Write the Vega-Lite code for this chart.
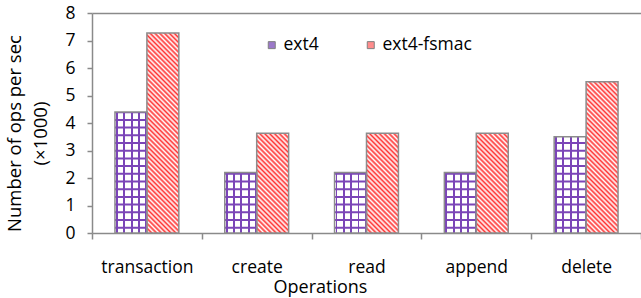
{
  "$schema": "https://vega.github.io/schema/vega-lite/v6.json",
  "width": 549,
  "height": 220,
  "autosize": "none",
  "padding": {"left": 92, "top": 13, "right": 0, "bottom": 65},
  "background": "white",
  "config": {
    "font": "Open Sans",
    "view": {"stroke": null},
    "axis": {"titleFontWeight": "normal", "labelColor": "#000", "titleColor": "#000", "domainColor": "#8a8a8a", "tickColor": "#8a8a8a", "domainWidth": 1.5, "tickWidth": 1.5},
    "legend": {"orient": "none", "direction": "horizontal", "legendX": 171, "legendY": 23, "padding": 0, "symbolType": "square", "symbolSize": 49, "symbolStrokeColor": "#808080", "symbolStrokeWidth": 1, "symbolOpacity": 1, "labelFont": "Open Sans", "labelFontSize": 17.5, "labelColor": "#000", "labelOffset": 3, "columnPadding": 43}
  },
  "data": {"values": [
    {"op": "transaction", "series": "ext4", "value": 4.4},
    {"op": "transaction", "series": "ext4-fsmac", "value": 7.27},
    {"op": "create", "series": "ext4", "value": 2.2},
    {"op": "create", "series": "ext4-fsmac", "value": 3.63},
    {"op": "read", "series": "ext4", "value": 2.2},
    {"op": "read", "series": "ext4-fsmac", "value": 3.63},
    {"op": "append", "series": "ext4", "value": 2.2},
    {"op": "append", "series": "ext4-fsmac", "value": 3.63},
    {"op": "delete", "series": "ext4", "value": 3.5},
    {"op": "delete", "series": "ext4-fsmac", "value": 5.5}
  ]},
  "encoding": {
    "x": {"field": "op", "type": "nominal", "sort": null,
      "scale": {"paddingInner": 0, "paddingOuter": 0},
      "axis": {"title": "Operations", "labelAngle": 0, "labelFontSize": 17.5, "tickBand": "extent", "tickSize": 6, "labelPadding": 19, "titleFontSize": 18, "titleX": 228, "titleY": 54, "titleAlign": "center", "titleBaseline": "middle", "titleAnchor": null}},
    "xOffset": {"field": "series", "type": "nominal", "sort": ["ext4", "ext4-fsmac"], "scale": {"paddingInner": 0, "paddingOuter": 0.71875}},
    "y": {"field": "value", "type": "quantitative",
      "scale": {"domain": [0, 8], "nice": false},
      "axis": {"title": ["Number of ops per sec", "(×1000)"], "values": [0,1,2,3,4,5,6,7,8], "labelFontSize": 17.5, "tickSize": 5, "labelPadding": 12, "titleFontSize": 18.5, "titleLineHeight": 26, "titleAngle": -90, "titleX": -78, "titleY": 120, "titleAlign": "center", "titleBaseline": "middle", "grid": true, "gridWidth": 1.5, "gridColor": {"condition": {"test": "datum.value === 8", "value": "#8a8a8a"}, "value": "transparent"}}}
  },
  "layer": [
    {
      "mark": {"type": "bar"},
      "encoding": {
        "color": {"field": "series", "type": "nominal", "title": null,
          "scale": {"domain": ["ext4", "ext4-fsmac"], "range": ["#9b78c9", "#ff8c8c"]}}
      }
    },
    {
      "transform": [{"filter": "datum.series === 'ext4'"}],
      "mark": {"type": "bar", "fill": {"gradient": "linear", "x1": 0, "y1": 0, "x2": 1, "y2": 0, "stops": [
        {"offset": 0, "color": "#ffffff"}, {"offset": 0.03, "color": "#ffffff"}, {"offset": 0.03, "color": "#7b45b8"}, {"offset": 0.09, "color": "#7b45b8"}, {"offset": 0.09, "color": "#ffffff"},
        {"offset": 0.26, "color": "#ffffff"}, {"offset": 0.26, "color": "#7b45b8"}, {"offset": 0.32, "color": "#7b45b8"}, {"offset": 0.32, "color": "#ffffff"},
        {"offset": 0.49, "color": "#ffffff"}, {"offset": 0.49, "color": "#7b45b8"}, {"offset": 0.55, "color": "#7b45b8"}, {"offset": 0.55, "color": "#ffffff"},
        {"offset": 0.72, "color": "#ffffff"}, {"offset": 0.72, "color": "#7b45b8"}, {"offset": 0.78, "color": "#7b45b8"}, {"offset": 0.78, "color": "#ffffff"},
        {"offset": 0.95, "color": "#ffffff"}, {"offset": 0.95, "color": "#7b45b8"}, {"offset": 1, "color": "#7b45b8"}]}}
    },
    {
      "transform": [{"filter": "datum.series === 'ext4'"}],
      "mark": {"type": "rule", "color": "#7b45b8", "strokeWidth": 32, "strokeCap": "butt", "strokeDash": [2, 5.7], "strokeDashOffset": 3.4},
      "encoding": {
        "y": {"datum": 0, "type": "quantitative"},
        "y2": {"field": "value"}
      }
    },
    {
      "transform": [{"filter": "datum.series === 'ext4-fsmac' && datum.op === 'transaction'"}],
      "mark": {"type": "bar", "fill": {"gradient": "linear", "x1": 0, "y1": 1, "x2": 0.181, "y2": -0.131, "stops": [
        {"offset":0,"color":"#ff3333"},{"offset":0.0104,"color":"#fff"},{"offset":0.0208,"color":"#ff3333"},{"offset":0.0313,"color":"#fff"},{"offset":0.0417,"color":"#ff3333"},{"offset":0.0521,"color":"#fff"},{"offset":0.0625,"color":"#ff3333"},{"offset":0.0729,"color":"#fff"},{"offset":0.0833,"color":"#ff3333"},{"offset":0.0938,"color":"#fff"},
        {"offset":0.1042,"color":"#ff3333"},{"offset":0.1146,"color":"#fff"},{"offset":0.125,"color":"#ff3333"},{"offset":0.1354,"color":"#fff"},{"offset":0.1458,"color":"#ff3333"},{"offset":0.1563,"color":"#fff"},{"offset":0.1667,"color":"#ff3333"},{"offset":0.1771,"color":"#fff"},{"offset":0.1875,"color":"#ff3333"},{"offset":0.1979,"color":"#fff"},
        {"offset":0.2083,"color":"#ff3333"},{"offset":0.2188,"color":"#fff"},{"offset":0.2292,"color":"#ff3333"},{"offset":0.2396,"color":"#fff"},{"offset":0.25,"color":"#ff3333"},{"offset":0.2604,"color":"#fff"},{"offset":0.2708,"color":"#ff3333"},{"offset":0.2813,"color":"#fff"},{"offset":0.2917,"color":"#ff3333"},{"offset":0.3021,"color":"#fff"},
        {"offset":0.3125,"color":"#ff3333"},{"offset":0.3229,"color":"#fff"},{"offset":0.3333,"color":"#ff3333"},{"offset":0.3438,"color":"#fff"},{"offset":0.3542,"color":"#ff3333"},{"offset":0.3646,"color":"#fff"},{"offset":0.375,"color":"#ff3333"},{"offset":0.3854,"color":"#fff"},{"offset":0.3958,"color":"#ff3333"},{"offset":0.4063,"color":"#fff"},
        {"offset":0.4167,"color":"#ff3333"},{"offset":0.4271,"color":"#fff"},{"offset":0.4375,"color":"#ff3333"},{"offset":0.4479,"color":"#fff"},{"offset":0.4583,"color":"#ff3333"},{"offset":0.4688,"color":"#fff"},{"offset":0.4792,"color":"#ff3333"},{"offset":0.4896,"color":"#fff"},{"offset":0.5,"color":"#ff3333"},{"offset":0.5104,"color":"#fff"},
        {"offset":0.5208,"color":"#ff3333"},{"offset":0.5313,"color":"#fff"},{"offset":0.5417,"color":"#ff3333"},{"offset":0.5521,"color":"#fff"},{"offset":0.5625,"color":"#ff3333"},{"offset":0.5729,"color":"#fff"},{"offset":0.5833,"color":"#ff3333"},{"offset":0.5938,"color":"#fff"},{"offset":0.6042,"color":"#ff3333"},{"offset":0.6146,"color":"#fff"},
        {"offset":0.625,"color":"#ff3333"},{"offset":0.6354,"color":"#fff"},{"offset":0.6458,"color":"#ff3333"},{"offset":0.6563,"color":"#fff"},{"offset":0.6667,"color":"#ff3333"},{"offset":0.6771,"color":"#fff"},{"offset":0.6875,"color":"#ff3333"},{"offset":0.6979,"color":"#fff"},{"offset":0.7083,"color":"#ff3333"},{"offset":0.7188,"color":"#fff"},
        {"offset":0.7292,"color":"#ff3333"},{"offset":0.7396,"color":"#fff"},{"offset":0.75,"color":"#ff3333"},{"offset":0.7604,"color":"#fff"},{"offset":0.7708,"color":"#ff3333"},{"offset":0.7813,"color":"#fff"},{"offset":0.7917,"color":"#ff3333"},{"offset":0.8021,"color":"#fff"},{"offset":0.8125,"color":"#ff3333"},{"offset":0.8229,"color":"#fff"},
        {"offset":0.8333,"color":"#ff3333"},{"offset":0.8438,"color":"#fff"},{"offset":0.8542,"color":"#ff3333"},{"offset":0.8646,"color":"#fff"},{"offset":0.875,"color":"#ff3333"},{"offset":0.8854,"color":"#fff"},{"offset":0.8958,"color":"#ff3333"},{"offset":0.9063,"color":"#fff"},{"offset":0.9167,"color":"#ff3333"},{"offset":0.9271,"color":"#fff"},
        {"offset":0.9375,"color":"#ff3333"},{"offset":0.9479,"color":"#fff"},{"offset":0.9583,"color":"#ff3333"},{"offset":0.9688,"color":"#fff"},{"offset":0.9792,"color":"#ff3333"},{"offset":0.9896,"color":"#fff"},{"offset":1,"color":"#ff3333"}]}}
    },
    {
      "transform": [{"filter": "datum.series === 'ext4-fsmac' && (datum.op === 'create' || datum.op === 'read' || datum.op === 'append')"}],
      "mark": {"type": "bar", "fill": {"gradient": "linear", "x1": 0, "y1": 1, "x2": 0.3832, "y2": -0.1974, "stops": [
        {"offset":0,"color":"#ff3333"},{"offset":0.0185,"color":"#fff"},{"offset":0.037,"color":"#ff3333"},{"offset":0.0556,"color":"#fff"},{"offset":0.0741,"color":"#ff3333"},{"offset":0.0926,"color":"#fff"},{"offset":0.1111,"color":"#ff3333"},{"offset":0.1296,"color":"#fff"},{"offset":0.1481,"color":"#ff3333"},{"offset":0.1667,"color":"#fff"},
        {"offset":0.1852,"color":"#ff3333"},{"offset":0.2037,"color":"#fff"},{"offset":0.2222,"color":"#ff3333"},{"offset":0.2407,"color":"#fff"},{"offset":0.2593,"color":"#ff3333"},{"offset":0.2778,"color":"#fff"},{"offset":0.2963,"color":"#ff3333"},{"offset":0.3148,"color":"#fff"},{"offset":0.3333,"color":"#ff3333"},{"offset":0.3519,"color":"#fff"},
        {"offset":0.3704,"color":"#ff3333"},{"offset":0.3889,"color":"#fff"},{"offset":0.4074,"color":"#ff3333"},{"offset":0.4259,"color":"#fff"},{"offset":0.4444,"color":"#ff3333"},{"offset":0.463,"color":"#fff"},{"offset":0.4815,"color":"#ff3333"},{"offset":0.5,"color":"#fff"},{"offset":0.5185,"color":"#ff3333"},{"offset":0.537,"color":"#fff"},
        {"offset":0.5556,"color":"#ff3333"},{"offset":0.5741,"color":"#fff"},{"offset":0.5926,"color":"#ff3333"},{"offset":0.6111,"color":"#fff"},{"offset":0.6296,"color":"#ff3333"},{"offset":0.6481,"color":"#fff"},{"offset":0.6667,"color":"#ff3333"},{"offset":0.6852,"color":"#fff"},{"offset":0.7037,"color":"#ff3333"},{"offset":0.7222,"color":"#fff"},
        {"offset":0.7407,"color":"#ff3333"},{"offset":0.7593,"color":"#fff"},{"offset":0.7778,"color":"#ff3333"},{"offset":0.7963,"color":"#fff"},{"offset":0.8148,"color":"#ff3333"},{"offset":0.8333,"color":"#fff"},{"offset":0.8519,"color":"#ff3333"},{"offset":0.8704,"color":"#fff"},{"offset":0.8889,"color":"#ff3333"},{"offset":0.9074,"color":"#fff"},
        {"offset":0.9259,"color":"#ff3333"},{"offset":0.9444,"color":"#fff"},{"offset":0.963,"color":"#ff3333"},{"offset":0.9815,"color":"#fff"},{"offset":1,"color":"#ff3333"}]}}
    },
    {
      "transform": [{"filter": "datum.series === 'ext4-fsmac' && datum.op === 'delete'"}],
      "mark": {"type": "bar", "fill": {"gradient": "linear", "x1": 0, "y1": 1, "x2": 0.2454, "y2": -0.1597, "stops": [
        {"offset":0,"color":"#ff3333"},{"offset":0.0132,"color":"#fff"},{"offset":0.0263,"color":"#ff3333"},{"offset":0.0395,"color":"#fff"},{"offset":0.0526,"color":"#ff3333"},{"offset":0.0658,"color":"#fff"},{"offset":0.0789,"color":"#ff3333"},{"offset":0.0921,"color":"#fff"},{"offset":0.1053,"color":"#ff3333"},{"offset":0.1184,"color":"#fff"},
        {"offset":0.1316,"color":"#ff3333"},{"offset":0.1447,"color":"#fff"},{"offset":0.1579,"color":"#ff3333"},{"offset":0.1711,"color":"#fff"},{"offset":0.1842,"color":"#ff3333"},{"offset":0.1974,"color":"#fff"},{"offset":0.2105,"color":"#ff3333"},{"offset":0.2237,"color":"#fff"},{"offset":0.2368,"color":"#ff3333"},{"offset":0.25,"color":"#fff"},
        {"offset":0.2632,"color":"#ff3333"},{"offset":0.2763,"color":"#fff"},{"offset":0.2895,"color":"#ff3333"},{"offset":0.3026,"color":"#fff"},{"offset":0.3158,"color":"#ff3333"},{"offset":0.3289,"color":"#fff"},{"offset":0.3421,"color":"#ff3333"},{"offset":0.3553,"color":"#fff"},{"offset":0.3684,"color":"#ff3333"},{"offset":0.3816,"color":"#fff"},
        {"offset":0.3947,"color":"#ff3333"},{"offset":0.4079,"color":"#fff"},{"offset":0.4211,"color":"#ff3333"},{"offset":0.4342,"color":"#fff"},{"offset":0.4474,"color":"#ff3333"},{"offset":0.4605,"color":"#fff"},{"offset":0.4737,"color":"#ff3333"},{"offset":0.4868,"color":"#fff"},{"offset":0.5,"color":"#ff3333"},{"offset":0.5132,"color":"#fff"},
        {"offset":0.5263,"color":"#ff3333"},{"offset":0.5395,"color":"#fff"},{"offset":0.5526,"color":"#ff3333"},{"offset":0.5658,"color":"#fff"},{"offset":0.5789,"color":"#ff3333"},{"offset":0.5921,"color":"#fff"},{"offset":0.6053,"color":"#ff3333"},{"offset":0.6184,"color":"#fff"},{"offset":0.6316,"color":"#ff3333"},{"offset":0.6447,"color":"#fff"},
        {"offset":0.6579,"color":"#ff3333"},{"offset":0.6711,"color":"#fff"},{"offset":0.6842,"color":"#ff3333"},{"offset":0.6974,"color":"#fff"},{"offset":0.7105,"color":"#ff3333"},{"offset":0.7237,"color":"#fff"},{"offset":0.7368,"color":"#ff3333"},{"offset":0.75,"color":"#fff"},{"offset":0.7632,"color":"#ff3333"},{"offset":0.7763,"color":"#fff"},
        {"offset":0.7895,"color":"#ff3333"},{"offset":0.8026,"color":"#fff"},{"offset":0.8158,"color":"#ff3333"},{"offset":0.8289,"color":"#fff"},{"offset":0.8421,"color":"#ff3333"},{"offset":0.8553,"color":"#fff"},{"offset":0.8684,"color":"#ff3333"},{"offset":0.8816,"color":"#fff"},{"offset":0.8947,"color":"#ff3333"},{"offset":0.9079,"color":"#fff"},
        {"offset":0.9211,"color":"#ff3333"},{"offset":0.9342,"color":"#fff"},{"offset":0.9474,"color":"#ff3333"},{"offset":0.9605,"color":"#fff"},{"offset":0.9737,"color":"#ff3333"},{"offset":0.9868,"color":"#fff"},{"offset":1,"color":"#ff3333"}]}}
    },
    {
      "mark": {"type": "bar", "fillOpacity": 0, "stroke": "#8c8c8c", "strokeWidth": 1.5}
    }
  ]
}
